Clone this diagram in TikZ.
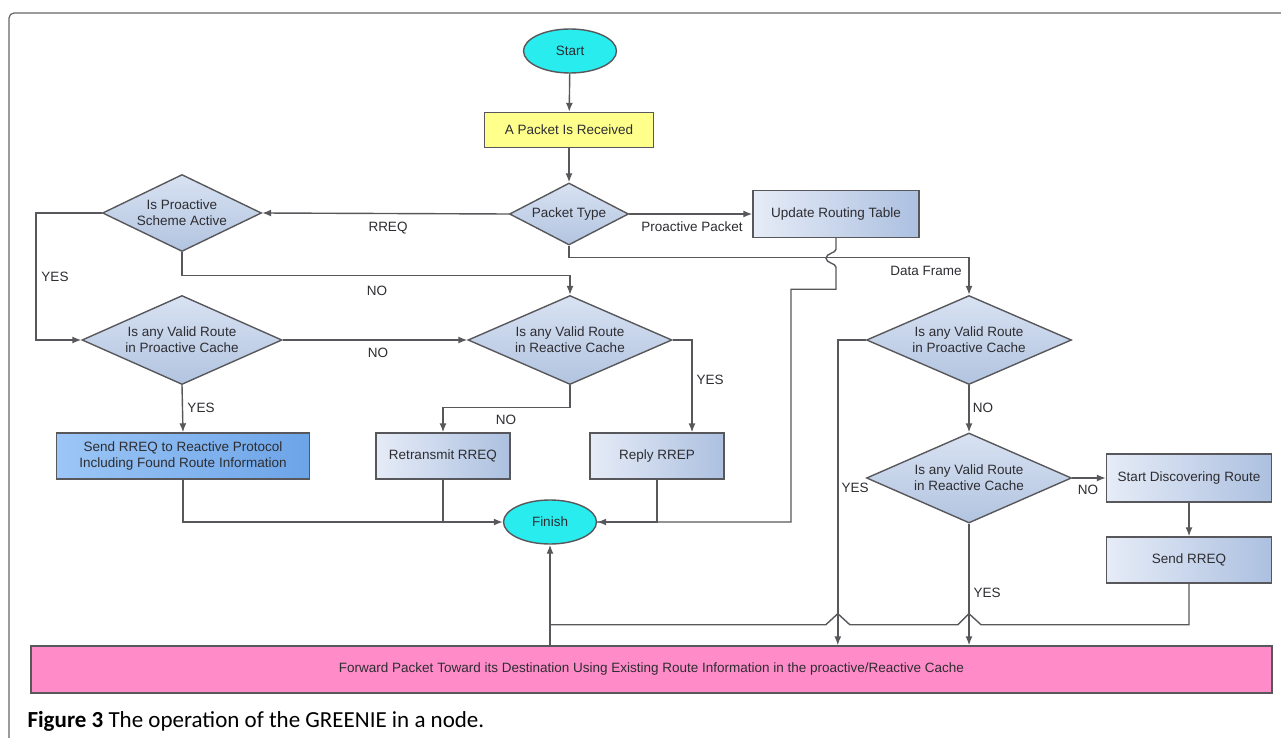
\documentclass[tikz,border=0pt]{standalone}
\usepackage{fontspec}
\setmainfont{Liberation Sans}
\newfontfamily\capfont{Carlito}
\usetikzlibrary{shapes.geometric,arrows.meta,calc}

\definecolor{termfill}{RGB}{40,236,238}
\definecolor{recvfill}{RGB}{255,255,140}
\definecolor{dectop}{RGB}{216,226,242}
\definecolor{decbot}{RGB}{178,196,224}
\definecolor{proclight}{RGB}{230,236,247}
\definecolor{procdark}{RGB}{172,192,224}
\definecolor{bluelight}{RGB}{156,198,246}
\definecolor{bluedark}{RGB}{108,164,232}
\definecolor{fwdfill}{RGB}{255,140,200}
\definecolor{edgegray}{RGB}{88,88,92}
\definecolor{txtgray}{RGB}{45,45,50}

\tikzset{
  every node/.style={font=\fontsize{13.5}{16}\selectfont, text=txtgray},
  term/.style={ellipse, draw=edgegray, line width=1.4pt, fill=termfill,
    minimum width=93pt, minimum height=44pt, inner sep=0pt},
  recvbox/.style={rectangle, draw=edgegray, line width=1.4pt, fill=recvfill,
    minimum width=169pt, minimum height=35pt},
  dec/.style={diamond, draw=edgegray, line width=1.4pt, top color=dectop,
    bottom color=decbot, align=center, inner sep=0pt},
  proc/.style={rectangle, draw=edgegray, line width=1.4pt, left color=proclight,
    right color=procdark, align=center},
  procblue/.style={rectangle, draw=edgegray, line width=1.4pt, left color=bluelight,
    right color=bluedark, align=center},
  fwdbox/.style={rectangle, draw=edgegray, line width=1.4pt, fill=fwdfill},
  link/.style={draw=edgegray, line width=1.4pt},
  arr/.style={link, -{Latex[length=9pt,width=7pt]}},
  lbl/.style={inner sep=1pt}
}

\begin{document}
\begin{tikzpicture}[x=1pt,y=-1pt]
  \useasboundingbox (0,0) rectangle (1281,738);
  \fill[white] (0,0) rectangle (1281,738);
  \draw[gray!80!black, line width=1.2pt, rounded corners=5pt] (9,738) -- (9,13) -- (1281,13);

  % top part
  \node[term] (start) at (570,51) {Start};
  \node[recvbox] (recv) at (569,130) {A Packet Is Received};
  \node[dec, aspect=1.92, minimum width=119pt, minimum height=62pt] (ptype) at (569,214) {Packet Type};
  \node[dec, aspect=2.06, minimum width=159pt, minimum height=77pt] (scheme) at (182,213) {Is Proactive\\Scheme Active};
  \node[proc, minimum width=166pt, minimum height=47pt] (update) at (836,214) {Update Routing Table};

  % RREQ branch
  \node[dec, aspect=2.25, minimum width=200pt, minimum height=89pt] (lpro) at (182,340) {Is any Valid Route\\in Proactive Cache};
  \node[dec, aspect=2.29, minimum width=204pt, minimum height=89pt] (lrea) at (570,340) {Is any Valid Route\\in Reactive Cache};
  \node[procblue, minimum width=253pt, minimum height=46pt] (sendrep) at (183,456) {Send RREQ to Reactive Protocol\\Including Found Route Information};
  \node[proc, minimum width=134pt, minimum height=46pt] (retx) at (443,456) {Retransmit RREQ};
  \node[proc, minimum width=134pt, minimum height=46pt] (reply) at (657,456) {Reply RREP};
  \node[term] (finish) at (550,522) {Finish};

  % data frame branch
  \node[dec, aspect=2.3, minimum width=205pt, minimum height=89pt] (rpro) at (969,340) {Is any Valid Route\\in Proactive Cache};
  \node[dec, aspect=2.28, minimum width=205pt, minimum height=90pt] (rrea) at (969,478) {Is any Valid Route\\in Reactive Cache};
  \node[proc, minimum width=165pt, minimum height=48pt] (discover) at (1189,478) {Start Discovering Route};
  \node[proc, minimum width=165pt, minimum height=46pt] (sendr) at (1189,560) {Send RREQ};
  \node[fwdbox, minimum width=1241pt, minimum height=47pt] (fwd) at (651.5,669.5) {Forward Packet Toward its Destination Using Existing Route Information in the proactive/Reactive Cache};

  \node[anchor=west, font=\capfont\fontsize{23}{26}\selectfont, text=black] (cap) at (24,721) {\textbf{Figure 3} The operation of the GREENIE in a node.};

  \coordinate (ljoin) at ([xshift=-28pt]rpro.west);
  \coordinate (bline) at ([yshift=-41pt]sendr.south);

  \draw[arr] (start) -- (recv);
  \draw[arr] (recv) -- (ptype);
  \draw[arr] (ptype.west) -- (scheme.east);
  \draw[arr] (ptype.east) -- (update.west);
  \draw[arr] (scheme.west) -- ++(-66,0) |- (lpro.west);
  \draw[arr] (scheme.south) -- ++(0,23) -| (lrea.north);
  \draw[arr] (lpro.east) -- (lrea.west);
  \draw[arr] (lpro.south) -- (sendrep.north);
  \draw[arr] (lrea.south) -- ++(0,22) -| (retx.north);
  \draw[arr] (lrea.east) -| ([xshift=35pt]reply.north);
  \draw[arr] (sendrep.south) |- (finish.west);
  \draw[link] (retx.south) -- (retx.south |- finish.west);
  \draw[arr] (reply.south) |- (finish.east);
  \draw[link] (update.south) -- ++(0,11)
    .. controls ++(0,4) and ++(0,-5) .. ++(-10,9)
    .. controls ++(0,5) and ++(0,-4) .. ++(10,9) -- ++(0,22) -- ++(-45,0) |- (finish.east);
  \draw[arr] (ptype.south) -- ++(0,12) -| (rpro.north);
  \draw[arr] (rpro.west) -- (ljoin) -- (ljoin |- fwd.north);
  \draw[arr] (rpro.south) -- (rrea.north);
  \draw[arr] (rrea.east) -- (discover.west);
  \draw[arr] (discover.south) -- (sendr.north);
  \draw[arr] (rrea.south) -- (rrea.south |- fwd.north);
  \draw[arr] (finish.south |- fwd.north) -- (finish.south);
  \draw[link] (sendr.south) -- (bline)
    -- ($(rrea.south |- bline)+(12,0)$) -- ($(rrea.south |- bline)+(0,-11)$) -- ($(rrea.south |- bline)+(-11,0)$)
    -- ($(ljoin |- bline)+(12,0)$) -- ($(ljoin |- bline)+(0,-11)$) -- ($(ljoin |- bline)+(-12,0)$)
    -- (finish.south |- bline);

  % labels
  \node[lbl] (lrreq) at (388,228) {RREQ};
  \node[lbl] (lpp) at (692,227) {Proactive Packet};
  \node[lbl] (lyes1) at (55,277) {YES};
  \node[lbl] (lno1) at (377,291) {NO};
  \node[lbl] (ldf) at (926,271) {Data Frame};
  \node[lbl] (lno2) at (378,353) {NO};
  \node[lbl] (lyes2) at (710,380) {YES};
  \node[lbl] (lyes3) at (201,408) {YES};
  \node[lbl] (lno3) at (506,420) {NO};
  \node[lbl] (lno4) at (983,408) {NO};
  \node[lbl] (lyes4) at (855,488) {YES};
  \node[lbl] (lno5) at (1088,490) {NO};
  \node[lbl] (lyes5) at (987,593) {YES};
\end{tikzpicture}
\end{document}
